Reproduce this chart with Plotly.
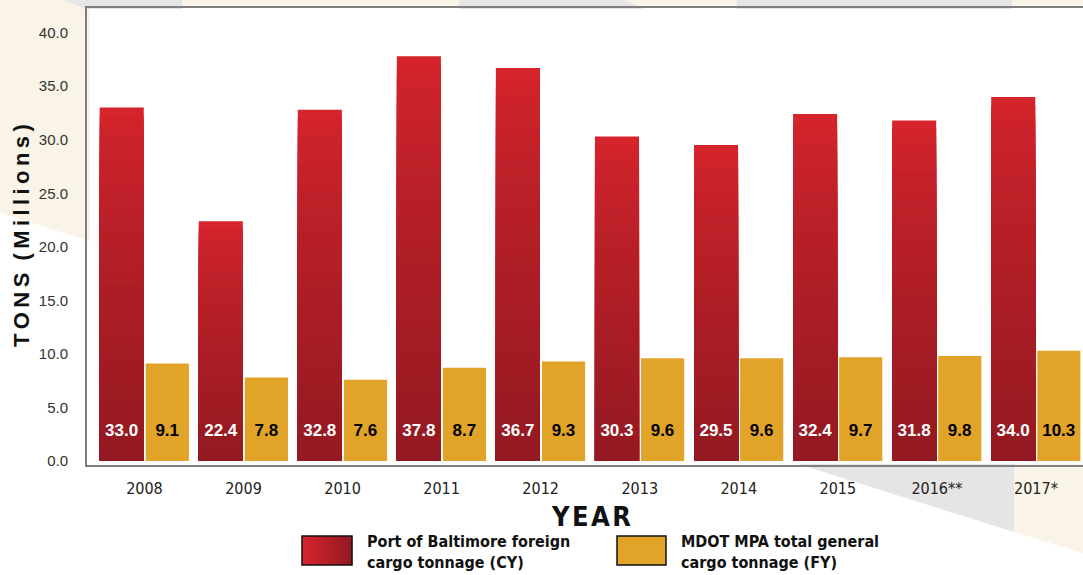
import plotly.graph_objects as go

years = ['2008', '2009', '2010', '2011', '2012', '2013', '2014', '2015', '2016**', '2017*']
port_foreign = [33.0, 22.4, 32.8, 37.8, 36.7, 30.3, 29.5, 32.4, 31.8, 34.0]
mpa_general = [9.1, 7.8, 7.6, 8.7, 9.3, 9.6, 9.6, 9.7, 9.8, 10.3]
y_ticks = [0, 5, 10, 15, 20, 25, 30, 35, 40]

RED_TOP = (214, 36, 44)
RED_BOT = (148, 25, 34)
ORANGE = '#E2A428'
CREAM = '#FAF4E8'
GRAY = '#E5E5E5'
AXIS = '#7F7F7F'
NARROW = 'Liberation Sans Narrow, DejaVu Sans Condensed, Arial Narrow, sans-serif'
SANS = 'Liberation Sans, Arial, sans-serif'

W, H = 1083, 575
L, R, T, B = 87, 0, 8, 110


def mix(t):
    return 'rgb(%d,%d,%d)' % tuple(round(a + (b - a) * t) for a, b in zip(RED_TOP, RED_BOT))


def px(x, y):
    # pixel position -> paper coordinates
    return (x - L) / (W - L - R), (H - B - y) / (H - T - B)


def poly(points, color):
    pts = [px(x, y) for x, y in points]
    path = 'M ' + ' L '.join('%.5f,%.5f' % p for p in pts) + ' Z'
    return dict(type='path', path=path, xref='paper', yref='paper',
                fillcolor=color, line=dict(width=0), layer='below')


def rect(x0, y0, x1, y1, color, line=None, layer='above'):
    a, b = px(x0, y0)
    c, d = px(x1, y1)
    return dict(type='rect', xref='paper', yref='paper', x0=a, y0=b, x1=c, y1=d,
                fillcolor=color, layer=layer,
                line=dict(color=line, width=1.5) if line else dict(width=0))


idx = list(range(len(years)))
fig = go.Figure()

# red bars drawn as stacked-down overlay slices to fake the vertical gradient
N = 40
for k in range(N):
    fig.add_trace(go.Bar(
        x=idx, y=[v * (1 - k / N) for v in port_foreign],
        width=0.445, offset=-0.452,
        marker=dict(color=mix((k / (N - 1)) ** 0.75), line_width=0),
        showlegend=False, hoverinfo='skip' if k else 'y',
    ))

fig.add_trace(go.Bar(
    x=idx, y=mpa_general, width=0.436, offset=0.013,
    marker=dict(color=ORANGE, line_width=0), showlegend=False,
))

# value labels near the base of each bar
fig.add_trace(go.Scatter(
    x=[i - 0.23 for i in idx], y=[2.7] * len(idx), mode='text',
    text=['%.1f' % v for v in port_foreign],
    textfont=dict(family=SANS, size=17, color='white', weight='bold'),
    showlegend=False, hoverinfo='skip',
))
fig.add_trace(go.Scatter(
    x=[i + 0.23 for i in idx], y=[2.7] * len(idx), mode='text',
    text=['%.1f' % v for v in mpa_general],
    textfont=dict(family=SANS, size=17, color='black', weight='bold'),
    showlegend=False, hoverinfo='skip',
))

# decorative background bands
shapes = [
    rect(0, 0, W, 8, CREAM, layer='below'),
    poly([(0, 0), (90, 0), (90, 241), (0, 213)], CREAM),
    poly([(64, 0), (182, 0), (182, 9), (86, 9)], GRAY),
    poly([(459, 0), (625, 0), (643, 9), (459, 9)], GRAY),
    poly([(737, 0), (1012, 0), (1012, 9), (737, 9)], GRAY),
    poly([(798, 464), (1014, 464), (1014, 532)], GRAY),
    poly([(1014, 464), (W, 464), (W, 553), (1014, 532)], CREAM),
]

# legend swatches
sw_x0, sw_x1 = 302, 352
n_sw = 25
for j in range(n_sw):
    a = sw_x0 + (sw_x1 - sw_x0) * j / n_sw
    b = sw_x0 + (sw_x1 - sw_x0) * (j + 1) / n_sw + 0.3
    shapes.append(rect(a, 536, b, 565, mix(j / (n_sw - 1))))
shapes.append(rect(sw_x0, 536, sw_x1, 565, 'rgba(0,0,0,0)', line='#111'))
shapes.append(rect(617, 536, 666, 565, ORANGE, line='#111'))

annotations = []


def note(x, y, text, font, xanchor='center', **kw):
    xp, yp = px(x, y)
    annotations.append(dict(x=xp, y=yp, xref='paper', yref='paper', text=text,
                            showarrow=False, font=font, xanchor=xanchor,
                            yanchor='middle', **kw))


ts = '\u2009'
gap = '\u00a0\u00a0'
note(21, 236, ts.join('TONS') + gap + ts.join('(Millions)'),
     dict(family=SANS, size=22, color='#111', weight='bold'), textangle=-90)
note(591, 516, '\u200a'.join('YEAR'), dict(family=NARROW, size=27, color='#111', weight='bold'))
note(365, 552, 'Port of Baltimore foreign<br>cargo tonnage (CY)',
     dict(family=NARROW, size=16, color='#111', weight='bold'), xanchor='left', align='left')
note(679, 552, 'MDOT MPA total general<br>cargo tonnage (FY)',
     dict(family=NARROW, size=16, color='#111', weight='bold'), xanchor='left', align='left')

fig.update_layout(
    width=W, height=H,
    margin=dict(l=L, r=R, t=T, b=B, pad=0),
    barmode='overlay',
    plot_bgcolor='white', paper_bgcolor='white',
    shapes=shapes, annotations=annotations,
    showlegend=False,
)
fig.update_xaxes(
    range=[-0.58, 9.475], tickvals=idx, ticktext=years,
    showgrid=False, zeroline=False,
    showline=True, mirror=True, linecolor=AXIS, linewidth=2,
    ticks='', ticklabelstandoff=8,
    tickfont=dict(family=NARROW, size=16, color='#222'),
)
fig.update_yaxes(
    range=[-0.37, 42.3], tickvals=y_ticks, tickformat='.1f',
    showgrid=False, zeroline=False,
    showline=True, linecolor=AXIS, linewidth=2,
    ticks='', ticklabelstandoff=14,
    tickfont=dict(family=SANS, size=15, color='#333'),
)

# drop the default page margin so the figure sits at the window's corner
fig.write_html('out.html', config={'displayModeBar': False},
               post_script="document.body.style.margin='0';")
